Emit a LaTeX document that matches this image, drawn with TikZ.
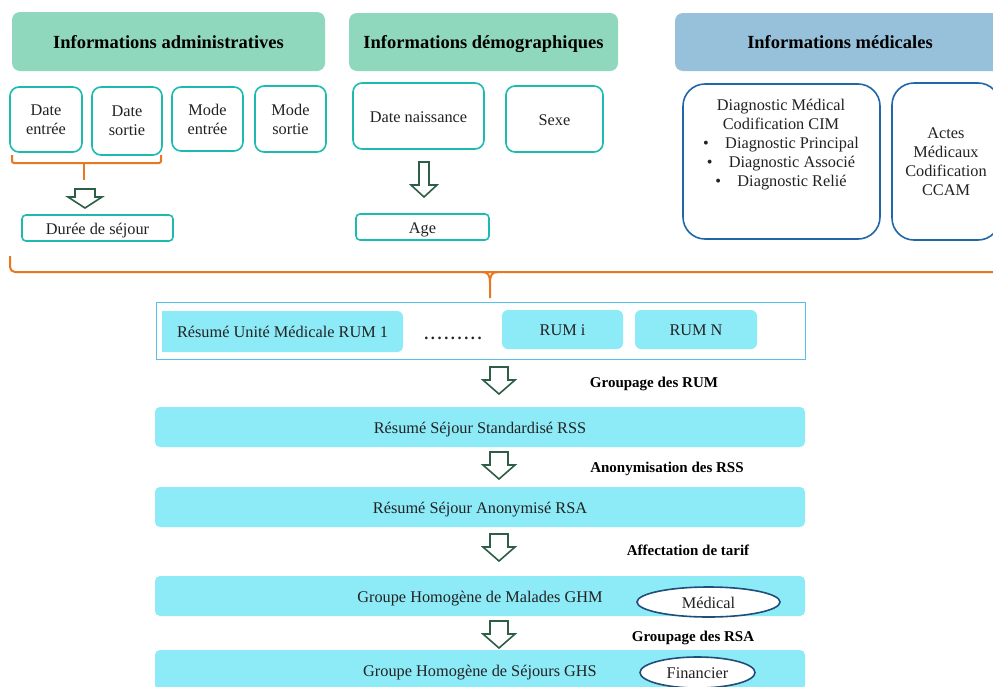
\documentclass[tikz,border=0pt]{standalone}
\usepackage{fontspec}
\setmainfont{Liberation Serif}
\usetikzlibrary{shapes.geometric}
\definecolor{hdrgreen}{HTML}{8FD8BD}
\definecolor{hdrblue}{HTML}{97C1DA}
\definecolor{tealc}{HTML}{1DBAB0}
\definecolor{medblue}{HTML}{2166A6}
\definecolor{orangec}{HTML}{E87722}
\definecolor{arrowgreen}{HTML}{2E5E45}
\definecolor{barcyan}{HTML}{8DEBF8}
\definecolor{contblue}{HTML}{55BEEA}
\definecolor{ovalblue}{HTML}{1F4E79}
\definecolor{txtgray}{HTML}{222222}
\newcommand{\bodyfnt}{\fontsize{16.3}{19}\selectfont}
\newcommand{\blkarrow}[6]{%
  \draw[blk] ({#1-#5},#2) -- ({#1+#5},#2) -- ({#1+#5},#3) -- ({#1+#6},#3) -- (#1,#4) -- ({#1-#6},#3) -- ({#1-#5},#3) -- cycle;}
\newcommand{\dotk}{.\kern2.6pt}
\begin{document}
\begin{tikzpicture}[x=1pt,y=-1pt,
  lowtxt/.style={text height=12.5pt, text depth=0pt},
  hdr/.style={rounded corners=8pt, inner sep=0pt, font=\fontsize{18.5}{20}\bfseries\selectfont, text=black, text height=13pt, text depth=0pt},
  tealbox/.style={draw=tealc, line width=1.6pt, rounded corners=9pt, fill=white, inner sep=0pt, align=center, font=\bodyfnt, text=txtgray},
  medbox/.style={draw=medblue, line width=1.6pt, rounded corners=22pt, fill=white, inner sep=0pt, align=center, font=\bodyfnt, text=txtgray},
  bar/.style={fill=barcyan, rounded corners=5pt, inner sep=0pt, font=\bodyfnt, text=txtgray, lowtxt},
  txt/.style={inner sep=0pt, align=center, font=\bodyfnt, text=txtgray},
  lbl/.style={inner sep=0pt, font=\fontsize{15}{17}\bfseries\selectfont, text=black, text height=12pt, text depth=0pt},
  ovl/.style={ellipse, draw=ovalblue, line width=1.6pt, fill=white, inner sep=0pt, font=\bodyfnt, text=txtgray, lowtxt},
  blk/.style={draw=arrowgreen, line width=1.6pt, fill=white, line join=miter},
  brc/.style={draw=orangec, line width=2pt}]
\useasboundingbox (0,0) rectangle (993,686);
\clip (0,0) rectangle (993,686);
\fill[white] (0,0) rectangle (993,686);

% headers
\node[hdr, fill=hdrgreen, minimum width=313pt, minimum height=59pt] (h1) at (168.5,41.5) {Informations administratives};
\node[hdr, fill=hdrgreen, minimum width=269pt, minimum height=58pt] (h2) at (483.5,42) {Informations démographiques};
\node[hdr, fill=hdrblue, minimum width=330pt, minimum height=58pt] (h3) at (840,42) {Informations médicales};

% admin boxes
\node[tealbox, minimum width=72pt, minimum height=65pt] (de) at (46,119.5) {Date\\entrée};
\node[tealbox, minimum width=70pt, minimum height=68pt] (ds) at (127,121) {Date\\sortie};
\node[tealbox, minimum width=71pt, minimum height=64pt] (me) at (207.5,119) {Mode\\entrée};
\node[tealbox, minimum width=71pt, minimum height=66pt] (ms) at (290.5,119) {Mode\\sortie};
\coordinate (bl) at (12,155);
\coordinate (br) at (161,155);
\coordinate (bm) at (84,163);
\coordinate (bs) at (84,180);
\draw[brc, rounded corners=2pt] (bl) |- (br |- bm) -- (br);
\draw[brc] (bm) -- (bs);
\blkarrow{85}{189}{197}{208}{10}{17}
\node[tealbox, lowtxt, rounded corners=4pt, minimum width=151pt, minimum height=26pt] (dur) at (97.5,228) {Durée de séjour};

% demographic
\node[tealbox, lowtxt, minimum width=131pt, minimum height=66pt] (dn) at (418.5,116) {Date naissance};
\node[tealbox, lowtxt, minimum width=97pt, minimum height=66pt] (sx) at (554.5,119) {Sexe};
\blkarrow{424}{162}{185}{197}{5}{13}
\node[tealbox, lowtxt, rounded corners=4pt, minimum width=133pt, minimum height=26pt] (age) at (422.5,227) {Age};

% medical
\node[medbox, minimum width=197pt, minimum height=155pt] (diag) at (781.5,161.5) {};
\node[txt] (diagt) at (781,145) {Diagnostic Médical\\Codification CIM\\\textbullet\quad Diagnostic Principal\\\textbullet\quad Diagnostic Associé\\\textbullet\quad Diagnostic Relié};
\node[medbox, minimum width=108pt, minimum height=157pt] (actes) at (946,161.5) {Actes\\Médicaux\\Codification\\CCAM};

% big brace
\coordinate (gl) at (10,256);
\coordinate (gr) at (1000,272);
\coordinate (gm) at (490,298);
\draw[brc, rounded corners=5pt] (gl) |- (gr);
\draw[brc] (482,272) .. controls (488,272) and (490,275) .. (490,283) -- (gm);
\draw[brc] (498,272) .. controls (492,272) and (490,275) .. (490,283);

% RUM container
\node[draw=contblue, line width=1pt, fill=white, minimum width=649pt, minimum height=57pt, inner sep=0pt] (cont) at (480.5,330.5) {};
\fill[barcyan] (162,311) rectangle (220,352);
\node[bar, rounded corners=6pt, minimum width=241pt, minimum height=41pt] (rum1) at (282.5,331.5) {Résumé Unité Médicale RUM 1};
\node[txt, lowtxt] (dots) at (453,333) {\textbf{\dotk\dotk\dotk\dotk\dotk\dotk\dotk\dotk.}};
\node[bar, rounded corners=6pt, minimum width=121pt, minimum height=39pt] (rumi) at (562.5,329.5) {RUM i};
\node[bar, rounded corners=6pt, minimum width=122pt, minimum height=39pt] (rumn) at (696,329.5) {RUM N};

% flow
\blkarrow{499}{367}{380}{394}{9}{16}
\node[lbl] (l1) at (654,381) {Groupage des RUM};
\node[bar, minimum width=650pt, minimum height=40pt] (rss) at (480,427) {Résumé Séjour Standardisé RSS};
\blkarrow{499}{452}{465}{479}{9}{16}
\node[lbl] (l2) at (667,466) {Anonymisation des RSS};
\node[bar, minimum width=650pt, minimum height=40pt] (rsa) at (480,507) {Résumé Séjour Anonymisé RSA};
\blkarrow{499}{534}{547}{561}{9}{16}
\node[lbl] (l3) at (688,549) {Affectation de tarif};
\node[bar, minimum width=650pt, minimum height=40pt] (ghm) at (480,596) {Groupe Homogène de Malades GHM};
\node[ovl, minimum width=143pt, minimum height=30pt] (med) at (708.5,602) {Médical};
\blkarrow{499}{621}{634}{648}{9}{16}
\node[lbl] (l4) at (693,635) {Groupage des RSA};
\node[bar, minimum width=650pt, minimum height=40pt] (ghs) at (480,670) {Groupe Homogène de Séjours GHS};
\node[ovl, minimum width=115pt, minimum height=31pt] (fin) at (697.5,672.5) {Financier};
\end{tikzpicture}
\end{document}
